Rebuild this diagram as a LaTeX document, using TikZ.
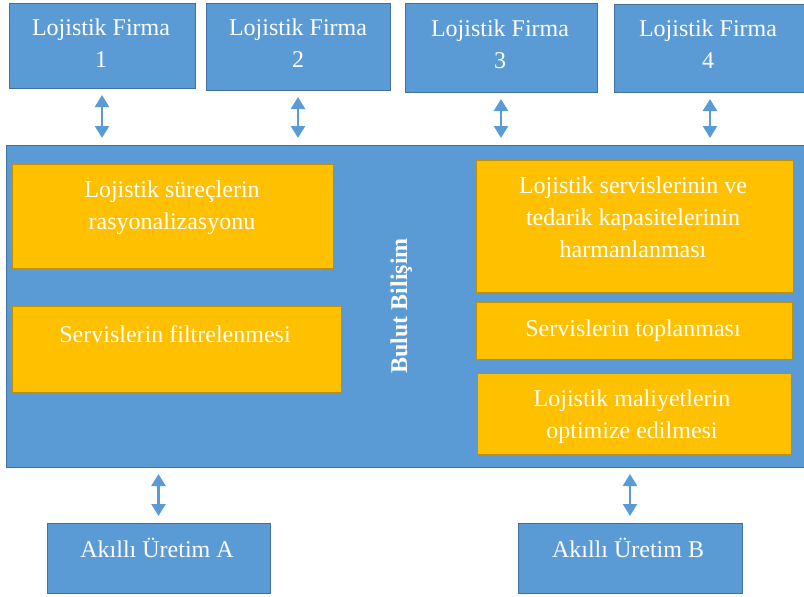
\documentclass[tikz,border=0pt]{standalone}
\usepackage{fontspec}
\setmainfont{Liberation Serif}
\usetikzlibrary{arrows.meta}
\definecolor{mavi}{HTML}{5B9BD5}
\definecolor{mavikenar}{HTML}{41719C}
\definecolor{sari}{HTML}{FFC000}
\definecolor{sarikenar}{HTML}{BF9000}
\tikzset{
        blok/.style = {rectangle, inner sep=0pt, outer sep=0pt, line width=1pt},
        blok_m/.style = {blok, fill=mavi, draw=mavikenar},
        blok_s/.style = {blok, fill=sari, draw=sarikenar},
        yazi/.style = {align=center, inner sep=0pt, text=white,
            font=\fontsize{24}{32}\selectfont},
        ok/.style = {mavi, line width=2.5pt, shorten <=7pt, shorten >=7pt}
    }

\begin{document}
\begin{tikzpicture}[x=1pt, y=-1pt, <->, >={Triangle[width=14pt,length=12pt]}]
        \useasboundingbox (0,0) rectangle (804,597);
        % firmalar
        \node [blok_m, minimum width=186, minimum height=85] (f1) at (102,45.5) {};
        \node [yazi] (f1y) at (101,43) {Lojistik Firma\\1};
        \node [blok_m, minimum width=184, minimum height=87] (f2) at (298,46.5) {};
        \node [yazi] (f2y) at (298,43) {Lojistik Firma\\2};
        \node [blok_m, minimum width=192, minimum height=89] (f3) at (501,47.5) {};
        \node [yazi] (f3y) at (500,44.5) {Lojistik Firma\\3};
        \node [blok_m, minimum width=192, minimum height=88] (f4) at (710,48) {};
        \node [yazi] (f4y) at (708,44.5) {Lojistik Firma\\4};
        % bulut
        \node [blok_m, minimum width=800, minimum height=322] (bulut) at (406,306) {};
        \node [yazi, anchor=base, rotate=90, font=\fontsize{24}{32}\selectfont\bfseries]
            (buluty) at (407,306) {Bulut Bilişim};
        \node [blok_s, minimum width=321, minimum height=104] (s1) at (172.5,216) {};
        \node [yazi] (s1y) at (172,208) {Lojistik süreçlerin\\rasyonalizasyonu};
        \node [blok_s, minimum width=329, minimum height=86] (s2) at (176.5,349) {};
        \node [yazi, anchor=base] (s2y) at (175,342) {Servislerin filtrelenmesi};
        \node [blok_s, minimum width=317, minimum height=132] (s3) at (634.5,226) {};
        \node [yazi] (s3y) at (633,217.5) {Lojistik servislerinin ve\\tedarik kapasitelerinin\\harmanlanması};
        \node [blok_s, minimum width=316, minimum height=57] (s4) at (634,330.5) {};
        \node [yazi, anchor=base] (s4y) at (633,336) {Servislerin toplanması};
        \node [blok_s, minimum width=314, minimum height=81] (s5) at (634,413.5) {};
        \node [yazi] (s5y) at (632,416.5) {Lojistik maliyetlerin\\optimize edilmesi};
        % uretim
        \node [blok_m, minimum width=223, minimum height=70] (ua) at (158.5,558) {};
        \node [yazi, anchor=base] (uay) at (157,557) {Akıllı Üretim A};
        \node [blok_m, minimum width=224, minimum height=70] (ub) at (630,558) {};
        \node [yazi, anchor=base] (uby) at (628,557) {Akıllı Üretim B};
        % oklar
        \foreach \f in {f1,f2,f3,f4}
            \draw [ok] (\f) -- (\f |- bulut.north);
        \draw [ok] (bulut.south -| ua) -- (ua);
        \draw [ok] (bulut.south -| ub) -- (ub);
\end{tikzpicture}
\end{document}
